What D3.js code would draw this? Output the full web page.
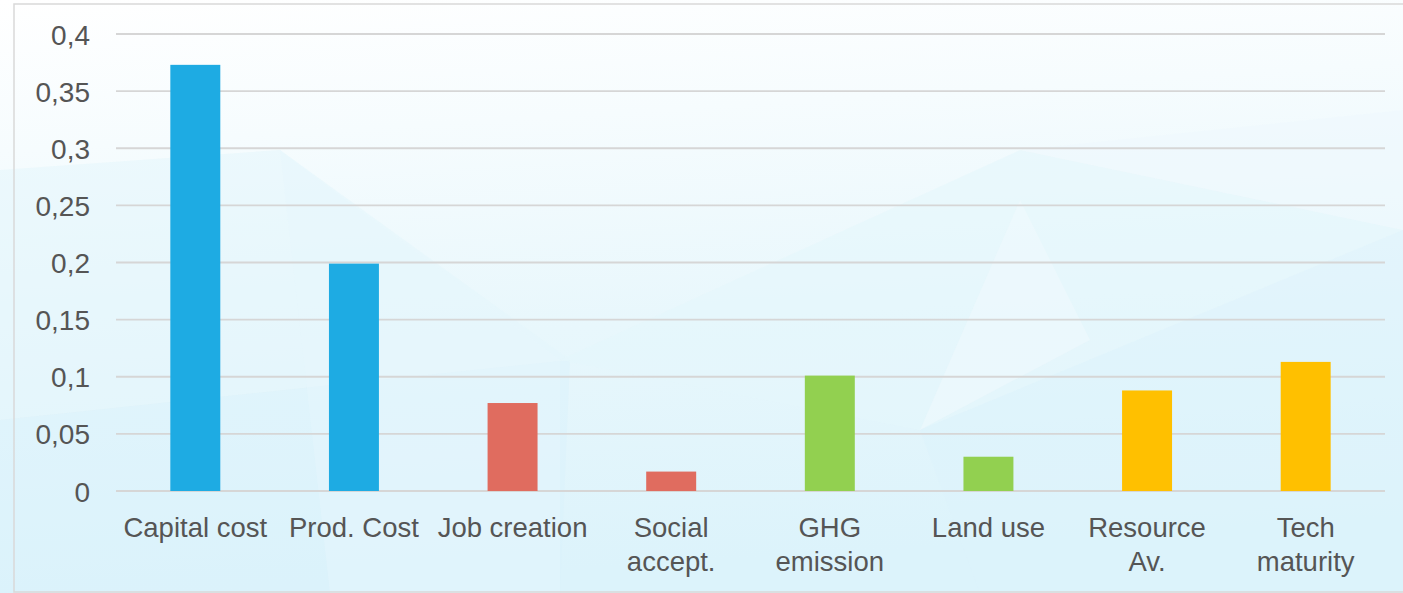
<!DOCTYPE html>
<html>
<head>
<meta charset="utf-8">
<script src="https://cdn.jsdelivr.net/npm/d3@7"></script>
<style>
  html, body { margin: 0; padding: 0; background: #ffffff; }
  svg { display: block; }
  text { font-family: "Liberation Sans", Arial, sans-serif; fill: #555555; }
</style>
</head>
<body>
<svg id="chart" width="1403" height="593"></svg>
<script>
// Criteria weights
const categories = [
  ["Capital cost"], ["Prod. Cost"], ["Job creation"], ["Social", "accept."],
  ["GHG", "emission"], ["Land use"], ["Resource", "Av."], ["Tech", "maturity"]
];
const weights = [0.373, 0.199, 0.077, 0.017, 0.101, 0.030, 0.088, 0.113];
const groups = ["economic", "economic", "social", "social", "environmental", "environmental", "technical", "technical"];
const yTicks = [0, 0.05, 0.1, 0.15, 0.2, 0.25, 0.3, 0.35, 0.4];

const groupColor = d3.scaleOrdinal()
  .domain(["economic", "social", "environmental", "technical"])
  .range(["#1eabe3", "#e06c5f", "#92d050", "#ffc000"]);

const W = 1403, H = 593;
const plot = { left: 116, right: 1385, top: 34, bottom: 491 };

const svg = d3.select("#chart");
const defs = svg.append("defs");

// soft backdrop
const bg = defs.append("linearGradient").attr("id", "bg")
  .attr("x1", 0).attr("y1", 0).attr("x2", 0.15).attr("y2", 1);
bg.append("stop").attr("offset", "0").attr("stop-color", "#ffffff");
bg.append("stop").attr("offset", "0.25").attr("stop-color", "#f6fcfe");
bg.append("stop").attr("offset", "0.6").attr("stop-color", "#e8f7fc");
bg.append("stop").attr("offset", "1").attr("stop-color", "#dcf3fb");
svg.append("rect").attr("width", W).attr("height", H).attr("fill", "url(#bg)");

// faint facets in the backdrop
const facets = [
  { pts: [[0, 170], [280, 150], [570, 360], [0, 420]], fill: "#e3f5fc", op: 0.55 },
  { pts: [[0, 420], [570, 360], [560, 593], [0, 593]], fill: "#d9f2fb", op: 0.5 },
  { pts: [[560, 360], [1020, 150], [1403, 230], [920, 430]], fill: "#e4f6fc", op: 0.6 },
  { pts: [[1020, 150], [1403, 110], [1403, 230]], fill: "#eef9fd", op: 0.6 },
  { pts: [[920, 430], [1403, 230], [1403, 593], [980, 593]], fill: "#dcf3fb", op: 0.55 },
  { pts: [[280, 150], [560, 360], [560, 593], [330, 593]], fill: "#e6f7fd", op: 0.45 },
  { pts: [[920, 430], [1020, 200], [1090, 340]], fill: "#f2fafd", op: 0.5 }
];
svg.append("g").selectAll("polygon").data(facets).join("polygon")
  .attr("points", d => d.pts.map(p => p.join(",")).join(" "))
  .attr("fill", d => d.fill).attr("opacity", d => d.op);

// frame
svg.append("rect")
  .attr("x", 14).attr("y", 4).attr("width", W).attr("height", 588)
  .attr("fill", "none").attr("stroke", "#d9d9d9").attr("stroke-width", 1.5);

const x = d3.scaleBand()
  .domain(d3.range(categories.length))
  .range([plot.left, plot.right])
  .padding(0);
const barW = x.bandwidth() * 0.315;

const y = d3.scaleLinear().domain([0, 0.4]).range([plot.bottom, plot.top]);

// gridlines
svg.append("g").selectAll("line").data(yTicks).join("line")
  .attr("x1", plot.left).attr("x2", plot.right)
  .attr("y1", d => y(d)).attr("y2", d => y(d))
  .attr("stroke", "#d6d6d6").attr("stroke-width", 1.8);

// y axis labels
const fmt = d => String(d).replace(".", ",");
const yAxis = d3.axisLeft(y).tickValues(yTicks).tickFormat(fmt).tickSize(0).tickPadding(0);
const yg = svg.append("g").attr("transform", `translate(${plot.left - 26},0)`).call(yAxis);
yg.select(".domain").remove();
yg.selectAll("text")
  .attr("font-family", "'Liberation Sans', Arial, sans-serif")
  .attr("font-size", 28).attr("fill", "#555555").attr("dy", "0.36em");

// bars
svg.append("g").selectAll("rect").data(weights).join("rect")
  .attr("x", (d, i) => x(i) + (x.bandwidth() - barW) / 2)
  .attr("width", barW)
  .attr("y", d => y(d))
  .attr("height", d => y(0) - y(d))
  .attr("fill", (d, i) => groupColor(groups[i]));

// category labels
const lab = svg.append("g").selectAll("text").data(categories).join("text")
  .attr("text-anchor", "middle")
  .attr("font-size", 27.5)
  .attr("x", (d, i) => x(i) + x.bandwidth() / 2)
  .attr("y", 537);
lab.selectAll("tspan").data(d => d).join("tspan")
  .attr("x", function () { return this.parentNode.getAttribute("x"); })
  .attr("dy", (d, i) => i === 0 ? 0 : 33.5)
  .text(d => d);
</script>
</body>
</html>
